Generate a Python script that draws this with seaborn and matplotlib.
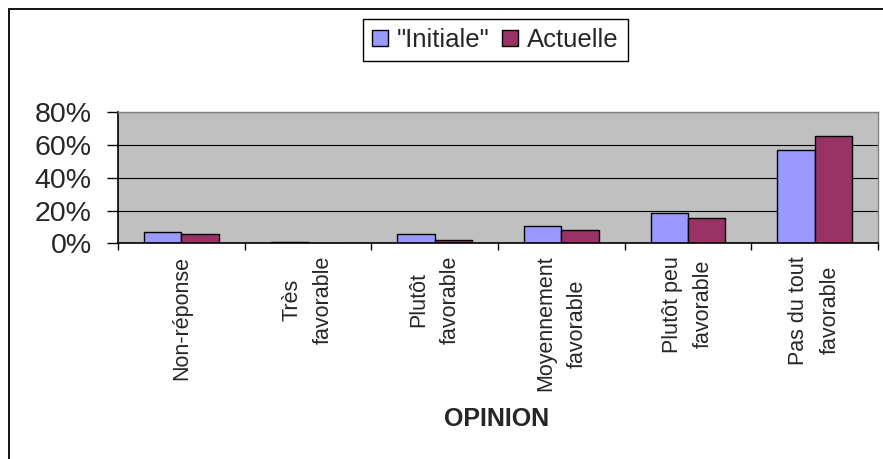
import pandas as pd
import numpy as np
import matplotlib
matplotlib.use('Agg')
import matplotlib.pyplot as plt
import seaborn as sns
from matplotlib.ticker import PercentFormatter
from matplotlib.patches import Rectangle

# data (percent)
categories = ['Non-réponse', 'Très\nfavorable', 'Plutôt\nfavorable',
              'Moyennement\nfavorable', 'Plutôt peu\nfavorable', 'Pas du tout\nfavorable']
initiale = [6.9, 1.0, 5.7, 10.6, 18.2, 57.0]
actuelle = [5.7, 0.0, 2.0, 8.1, 15.6, 65.5]
series = ['"Initiale"', 'Actuelle']
colors = ['#9999FF', '#993366']

df = pd.DataFrame({
    'opinion': categories * 2,
    'serie': [series[0]] * len(categories) + [series[1]] * len(categories),
    'valeur': initiale + actuelle,
})

sns.set_style('white')
plt.rcParams['font.family'] = ['Liberation Sans', 'DejaVu Sans']

fig = plt.figure(figsize=(8.83, 4.59), dpi=100)
ax = fig.add_axes([118 / 883, 1 - 243.3 / 459, 760 / 883, 131 / 459])
ax.set_facecolor('#C0C0C0')

sns.barplot(data=df, x='opinion', y='valeur', hue='serie', order=categories,
            hue_order=series, palette=dict(zip(series, colors)), width=0.59,
            errorbar=None, edgecolor='black', linewidth=1.0, saturation=1, ax=ax)

ax.set_ylim(0, 80)
ax.set_yticks([0, 20, 40, 60, 80])
ax.yaxis.set_major_formatter(PercentFormatter(100, decimals=0))
ax.set_xlim(-0.5, len(categories) - 0.5)
ax.yaxis.grid(True, color='black', linewidth=0.8)
ax.set_axisbelow(True)

# category ticks at the boundaries, labels at the centres
ax.set_xticks(np.arange(len(categories)))
ax.set_xticklabels(categories, rotation=90, fontsize=15.5, va='top', ha='center',
                   multialignment='center', linespacing=1.65)
ax.set_xticks(np.arange(len(categories) + 1) - 0.5, minor=True)
ax.tick_params(axis='x', which='major', length=0, pad=9)
ax.tick_params(axis='x', which='minor', length=5, width=1, color='black', direction='out', bottom=True)
ax.tick_params(axis='y', length=8, width=1, color='black', direction='out', left=True,
               labelsize=20.5, pad=11)
ax.set_xlabel('')
ax.set_ylabel('')

for side in ['left', 'bottom']:
    ax.spines[side].set_color('black')
    ax.spines[side].set_linewidth(1.2)
for side in ['top', 'right']:
    ax.spines[side].set_color('#808080')
    ax.spines[side].set_linewidth(1.0)

ax.get_legend().remove()
handles = [Rectangle((0, 0), 1, 1, facecolor=c, edgecolor='black', linewidth=1.0) for c in colors]
leg = fig.legend(handles, series, loc='center', bbox_to_anchor=(495.5 / 883, 1 - 40 / 459),
                 ncol=2, fontsize=18.5, frameon=True, fancybox=False, framealpha=1,
                 edgecolor='black', handlelength=0.62, handleheight=0.62,
                 handletextpad=0.35, columnspacing=0.5, borderpad=0.35, borderaxespad=0)
leg.get_frame().set_linewidth(1.0)

fig.text(497 / 883, 1 - 419 / 459, 'OPINION', fontsize=18, fontweight='bold',
         ha='center', va='center')

# outer chart border
fig.add_artist(Rectangle((8.5 / 883, -0.1), 1.2, 1.1 - 9.5 / 459, transform=fig.transFigure,
                         fill=False, edgecolor='black', linewidth=1.3))

plt.savefig('out.png', dpi=100)
